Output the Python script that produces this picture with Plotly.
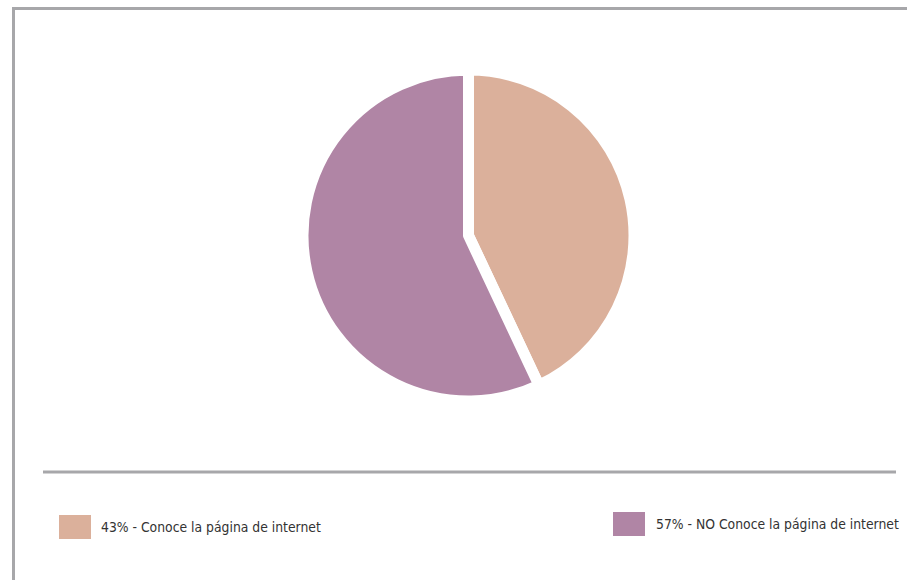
import plotly.graph_objects as go

labels = ["Conoce la página de internet", "NO Conoce la página de internet"]
values = [43, 57]
colors = ["#DBB09B", "#B085A5"]

W, H = 907, 580
cx, cy, r = 468.5, 235.5, 165.5

fig = go.Figure()
fig.add_trace(go.Pie(
    labels=labels, values=values, sort=False, direction="clockwise", rotation=0,
    marker=dict(colors=colors, line=dict(color="white", width=11)),
    textinfo="none", showlegend=False,
    domain=dict(x=[(cx - r) / W, (cx + r) / W], y=[1 - (cy + r) / H, 1 - (cy - r) / H]),
))

grey = "#A7A7AA"
shapes = [
    dict(type="line", xref="paper", yref="paper", x0=13.5 / W, x1=1.0, y0=1 - 8.5 / H, y1=1 - 8.5 / H,
         line=dict(color=grey, width=3)),
    dict(type="line", xref="paper", yref="paper", x0=13.5 / W, x1=13.5 / W, y0=0, y1=1 - 7 / H,
         line=dict(color=grey, width=3)),
    dict(type="line", xref="paper", yref="paper", x0=43 / W, x1=896 / W, y0=1 - 472 / H, y1=1 - 472 / H,
         line=dict(color=grey, width=3)),
]
annotations = []
legend_pos = [(59, 515, 98.5), (613, 512, 654)]
for (sx, sy, tx), lab, val, col in zip(legend_pos, labels, values, colors):
    shapes.append(dict(type="rect", xref="paper", yref="paper", x0=sx / W, x1=(sx + 32) / W,
                       y0=1 - (sy + 24) / H, y1=1 - sy / H, fillcolor=col, line=dict(width=0)))
    annotations.append(dict(xref="paper", yref="paper", x=tx / W, y=1 - (sy + 12) / H,
                            xanchor="left", yanchor="middle", showarrow=False,
                            text=f"{val}% - {lab}",
                            font=dict(family="DejaVu Sans Condensed, Liberation Sans Narrow",
                                      size=13.8, color="#333333")))

fig.update_layout(width=W, height=H, margin=dict(l=0, r=0, t=0, b=0),
                  paper_bgcolor="white", plot_bgcolor="white",
                  shapes=shapes, annotations=annotations)
fig.write_html("out.html", config={"displayModeBar": False},
               post_script="document.body.style.margin='0';document.body.style.overflow='hidden';")
